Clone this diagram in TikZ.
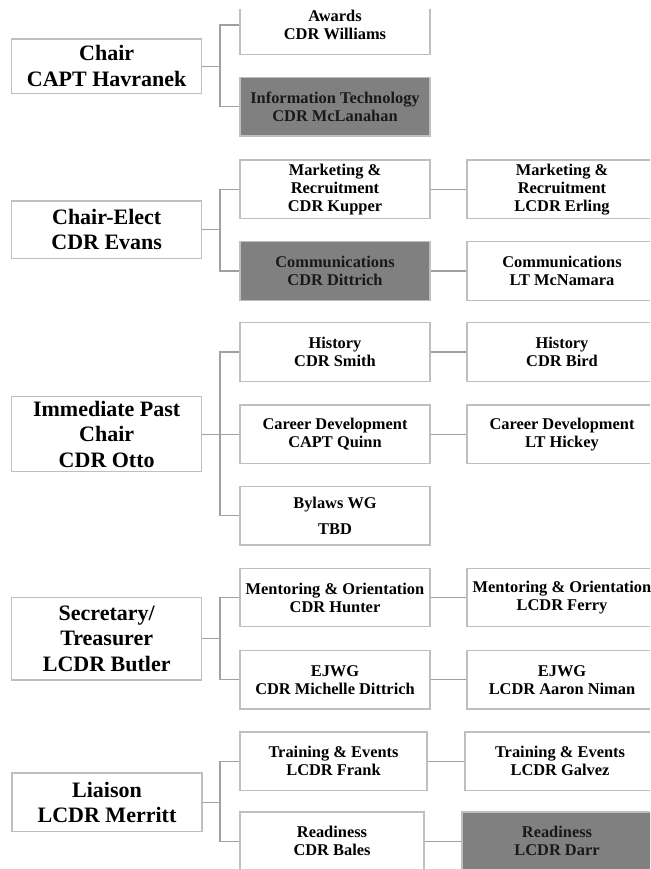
\documentclass[tikz,border=0pt]{standalone}
\usepackage{fontspec}
\setmainfont{Liberation Serif}
\definecolor{boxgray}{HTML}{BFBFBF}
\definecolor{linegray}{HTML}{A0A0A0}
\definecolor{darkfill}{HTML}{808080}
\begin{document}
\begin{tikzpicture}[x=1pt,y=-1pt,
  conn/.style={draw=linegray, line width=1.3pt},
  lead/.style={draw=boxgray, line width=1.2pt, fill=white, minimum width=190pt,
    inner sep=0pt, align=center, text=black,
    font=\fontsize{22}{25.5}\selectfont\bfseries},
  unit/.style={draw=boxgray, line width=1.2pt, fill=white, minimum width=190pt,
    minimum height=58.3pt, inner sep=0pt, align=center, text=black,
    font=\fontsize{16.4}{18}\selectfont\bfseries},
  dark/.style={fill=darkfill, text=black!90}]
\useasboundingbox (0,0) rectangle (650,869);
\clip (0,10) rectangle (650,869);

% ---------- leaders ----------
\node[lead, minimum height=54.3pt] (chair) at (106.7,66.2) {Chair\\CAPT Havranek};
\node[lead, minimum height=57.3pt] (elect) at (106.7,229.7) {Chair-Elect\\CDR Evans};
\node[lead, minimum height=75pt]   (past)  at (106.7,434.2) {Immediate Past\\Chair\\CDR Otto};
\node[lead, minimum height=82.7pt] (sec)   at (106.7,638.7) {Secretary/\\Treasurer\\LCDR Butler};
\node[lead, minimum height=58.7pt] (liai)  at (107,802.3)   {Liaison\\LCDR Merritt};

% ---------- middle column ----------
\node[unit] (awards) at (335,25)    {Awards\\CDR Williams};
\node[unit, dark] (it) at (335,106.8) {Information Technology\\CDR McLanahan};
\node[unit] (mr)     at (335,189.2) {Marketing \&\\Recruitment\\CDR Kupper};
\node[unit, dark] (com) at (335,271) {Communications\\CDR Dittrich};
\node[unit] (hist)   at (335,352)   {History\\CDR Smith};
\node[unit] (car)    at (335,434.2) {Career Development\\CAPT Quinn};
\node[unit, font=\fontsize{16.4}{25.7}\selectfont\bfseries] (byl) at (335,515.8) {Bylaws WG\\TBD};
\node[unit] (ment)   at (335,597.5) {Mentoring \& Orientation\\CDR Hunter};
\node[unit] (ejwg)   at (335,679.8) {EJWG\\CDR Michelle Dittrich};
\node[unit, minimum width=187pt] (train) at (333.5,761.2) {Training \& Events\\LCDR Frank};
\node[unit, minimum width=184pt] (ready) at (332,841.2) {Readiness\\CDR Bales};

% ---------- right column ----------
\node[unit] (mr2)    at (562,189.2) {Marketing \&\\Recruitment\\LCDR Erling};
\node[unit] (com2)   at (562,271)   {Communications\\LT McNamara};
\node[unit] (hist2)  at (562,352)   {History\\CDR Bird};
\node[unit] (car2)   at (562,434.2) {Career Development\\LT Hickey};
\node[unit] (ment2)  at (562,597.5) {Mentoring \& Orientation\\LCDR Ferry};
\node[unit] (ejwg2)  at (562,679.8) {EJWG\\LCDR Aaron Niman};
\node[unit] (train2) at (560,761.2) {Training \& Events\\LCDR Galvez};
\node[unit, dark] (ready2) at (557,841.2) {Readiness\\LCDR Darr};

% ---------- bus points ----------
\coordinate (b1) at (220,66.2);
\coordinate (b2) at (220,229.7);
\coordinate (b3) at (220,434.2);
\coordinate (b4) at (220,638.7);
\coordinate (b5) at (220,802.3);

% ---------- connectors ----------
\draw[conn] (chair.east) -- (b1);
\draw[conn] (b1) |- (awards.west);
\draw[conn] (b1) |- (it.west);

\draw[conn] (elect.east) -- (b2);
\draw[conn] (b2) |- (mr.west);
\draw[conn] (b2) |- (com.west);

\draw[conn] (past.east) -- (b3);
\draw[conn] (b3) |- (hist.west);
\draw[conn] (b3) -- (car.west);
\draw[conn] (b3) |- (byl.west);

\draw[conn] (sec.east) -- (b4);
\draw[conn] (b4) |- (ment.west);
\draw[conn] (b4) |- (ejwg.west);

\draw[conn] (liai.east) -- (b5);
\draw[conn] (b5) |- (train.west);
\draw[conn] (b5) |- (ready.west);

\draw[conn] (mr.east) -- (mr2.west);
\draw[conn] (com.east) -- (com2.west);
\draw[conn] (hist.east) -- (hist2.west);
\draw[conn] (car.east) -- (car2.west);
\draw[conn] (ment.east) -- (ment2.west);
\draw[conn] (ejwg.east) -- (ejwg2.west);
\draw[conn] (train.east) -- (train2.west);
\draw[conn] (ready.east) -- (ready2.west);
\end{tikzpicture}
\end{document}
